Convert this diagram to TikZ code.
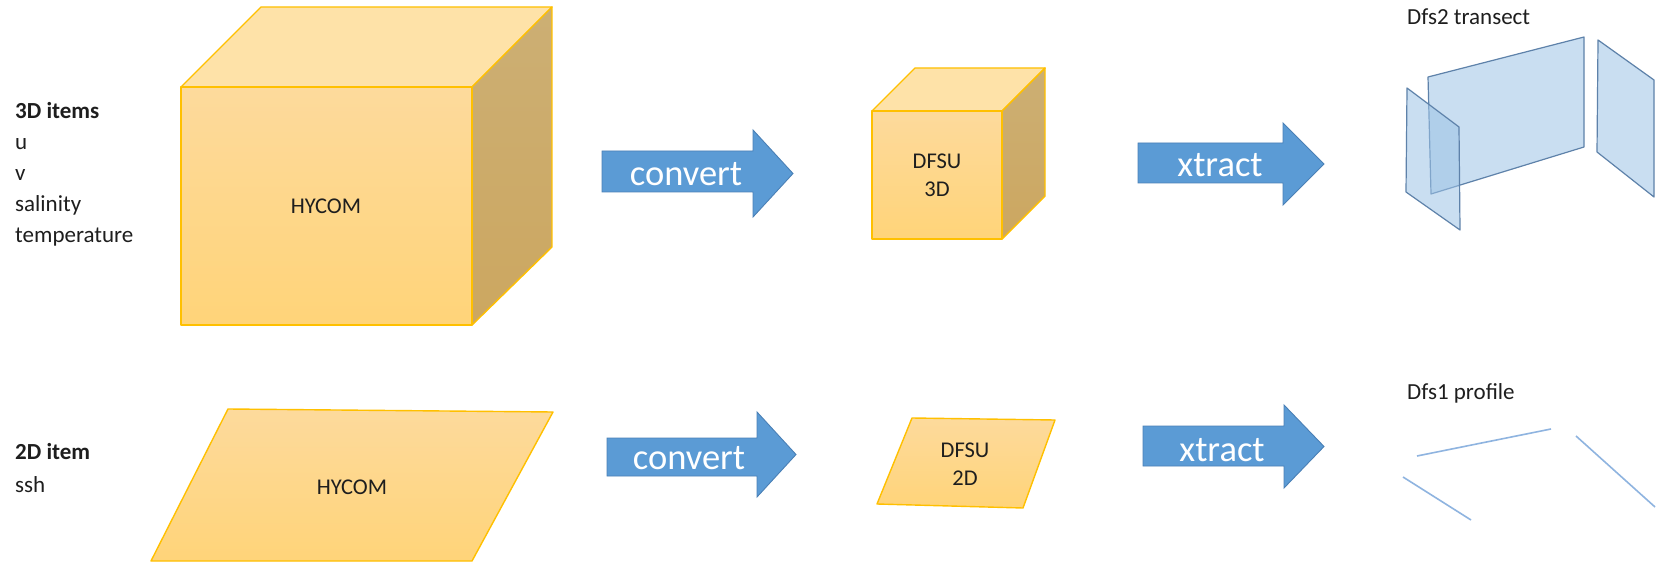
\documentclass[tikz,border=0pt]{standalone}
\usepackage{fontspec}
\setmainfont{Carlito}
\definecolor{gold}{HTML}{FFC000}
\definecolor{fTop}{HTML}{FDDA9C}
\definecolor{fBot}{HTML}{FFD479}
\definecolor{topC}{HTML}{FEE2A8}
\definecolor{sTop}{HTML}{CCAF74}
\definecolor{sBot}{HTML}{CCA760}
\definecolor{arrowFill}{HTML}{5B9BD5}
\definecolor{arrowEdge}{HTML}{4A80B6}
\definecolor{planeFill}{HTML}{9DC3E6}
\definecolor{planeEdge}{HTML}{5E82AA}
\definecolor{profC}{HTML}{8FB4E0}
\definecolor{textC}{HTML}{1E1E1E}
\begin{document}
\begin{tikzpicture}[x=1pt,y=-1pt,
  face/.style={draw=gold, line width=1.4pt, line join=round},
  frontface/.style={face, top color=fTop, bottom color=fBot},
  topface/.style={face, fill=topC},
  sideface/.style={face, top color=sTop, bottom color=sBot},
  bluearrow/.style={draw=arrowEdge, line width=0.9pt, fill=arrowFill, line join=miter},
  plane/.style={draw=planeEdge, line width=1.2pt, fill=planeFill, fill opacity=0.55, draw opacity=1, line join=round},
  profile/.style={draw=profC, line width=1.6pt},
  lbl/.style={font=\fontsize{23}{26}\selectfont, text=textC, inner sep=0pt, anchor=base west},
  ctr/.style={font=\fontsize{22.5}{26}\selectfont, text=textC, inner sep=0pt, anchor=base},
  arrowtxt/.style={font=\fontsize{36.5}{40}\selectfont, text=white, inner sep=0pt, anchor=base}]
\useasboundingbox[fill=white] (0,0) rectangle (1657,564);

% ---------- left labels ----------
\node[lbl] (l3d) at (15,119) {\textbf{3D items}};
\node[lbl] (lu) at (15,150) {u};
\node[lbl] (lv) at (15,181) {v};
\node[lbl] (ls) at (15,212) {salinity};
\node[lbl] (lt) at (15,243) {temperature};
\node[lbl] (l2d) at (15,459) {\textbf{2D item}};
\node[lbl] (lssh) at (15,492) {ssh};

% ---------- big HYCOM cube ----------
\draw[topface] (181,87) -- (261,7) -- (552,7) -- (472,87) -- cycle;
\draw[sideface] (472,87) -- (552,7) -- (552,247) -- (472,325) -- cycle;
\draw[frontface] (181,87) rectangle (472,325);
\node[ctr] (hycom3) at (326,214) {HYCOM};

% ---------- small DFSU 3D cube ----------
\draw[topface] (872,111) -- (915,68) -- (1045,68) -- (1002,111) -- cycle;
\draw[sideface] (1002,111) -- (1045,68) -- (1045,196) -- (1002,239) -- cycle;
\draw[frontface] (872,111) rectangle (1002,239);
\node[ctr] (dfsu3a) at (937,169) {DFSU};
\node[ctr] (dfsu3b) at (937,197) {3D};

% ---------- 2D HYCOM parallelogram ----------
\draw[frontface] (228,409) -- (553,412) -- (472,561) -- (151,561) -- cycle;
\node[ctr] (hycom2) at (352,494) {HYCOM};

% ---------- DFSU 2D parallelogram ----------
\draw[frontface] (912,418) -- (1055,420) -- (1023,508) -- (877,504) -- cycle;
\node[ctr] (dfsu2a) at (965,457) {DFSU};
\node[ctr] (dfsu2b) at (965,485) {2D};

% ---------- arrows ----------
\draw[bluearrow] (602,151) -- (753,151) -- (753,130) -- (793,173.5) -- (753,217) -- (753,192) -- (602,192) -- cycle;
\node[arrowtxt] (conv3) at (686,186) {convert};
\draw[bluearrow] (607,438) -- (757,438) -- (757,412) -- (796,454.5) -- (757,497) -- (757,476) -- (607,476) -- cycle;
\node[arrowtxt] (conv2) at (689,469) {convert};
\draw[bluearrow] (1138,143) -- (1283,143) -- (1283,123) -- (1324,164) -- (1283,205) -- (1283,183) -- (1138,183) -- cycle;
\node[arrowtxt] (xtr3) at (1220,177) {xtract};
\draw[bluearrow] (1143,426) -- (1284,426) -- (1284,405) -- (1324,446.5) -- (1284,488) -- (1284,466) -- (1143,466) -- cycle;
\node[arrowtxt] (xtr2) at (1222,461) {xtract};

% ---------- Dfs2 transect ----------
\node[lbl] (dfs2) at (1407,25) {Dfs2 transect};
\draw[plane] (1428,77) -- (1584,37) -- (1584,147) -- (1431,194) -- cycle;
\draw[plane] (1407,88) -- (1459,127) -- (1460,230) -- (1406,192) -- cycle;
\draw[plane] (1598,40) -- (1654,80) -- (1654,197) -- (1597,152) -- cycle;

% ---------- Dfs1 profile ----------
\node[lbl] (dfs1) at (1407,399) {Dfs1 profile};
\coordinate (p1a) at (1417,456); \coordinate (p1b) at (1551,429);
\coordinate (p2a) at (1576,436); \coordinate (p2b) at (1655,507);
\coordinate (p3a) at (1403,477); \coordinate (p3b) at (1471,520);
\draw[profile] (p1a) -- (p1b);
\draw[profile] (p2a) -- (p2b);
\draw[profile] (p3a) -- (p3b);
\end{tikzpicture}
\end{document}
